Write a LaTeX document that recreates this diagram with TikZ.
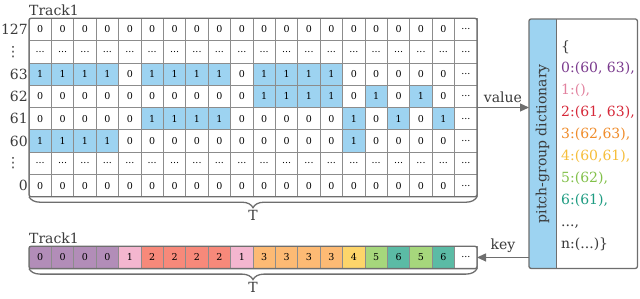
\documentclass[tikz,border=0pt]{standalone}
\usepackage{fontspec}
\setmainfont{DejaVu Serif}
\newfontfamily\dotsfont{DejaVu Sans}
\usetikzlibrary{decorations.pathreplacing,arrows.meta}

\definecolor{cellblue}   {HTML}{9DD3F1}
\definecolor{gridline}   {HTML}{8C8C8C}
\definecolor{framegray}  {HTML}{6E6E6E}
\definecolor{textgray}   {HTML}{3A3A3A}
\definecolor{grpzero}    {HTML}{B28DB8}
\definecolor{grpone}     {HTML}{F4B6CF}
\definecolor{grptwo}     {HTML}{F7897A}
\definecolor{grpthree}   {HTML}{FDBA74}
\definecolor{grpfour}    {HTML}{FDD56A}
\definecolor{grpfive}    {HTML}{A6D77C}
\definecolor{grpsix}     {HTML}{5BBBA5}
\definecolor{keyzero}    {HTML}{7B3B8E}
\definecolor{keyone}     {HTML}{E2829F}
\definecolor{keytwo}     {HTML}{D62839}
\definecolor{keythree}   {HTML}{F08C2A}
\definecolor{keyfour}    {HTML}{F6BE3A}
\definecolor{keyfive}    {HTML}{82C14A}
\definecolor{keysix}     {HTML}{1E9C82}

\newcommand{\celltxt}[1]{\if d#1...\else #1\fi}

\tikzset{
  cellbox/.style={draw=gridline, line width=0.7pt, anchor=north west,
    minimum width=22.4pt, minimum height=22.3pt, inner sep=0pt, outer sep=0pt,
    font=\fontsize{9.5}{9.5}\selectfont, text=black},
  v0/.style={fill=white}, v1/.style={fill=cellblue}, vd/.style={fill=white},
  k0/.style={fill=grpzero}, k1/.style={fill=grpone}, k2/.style={fill=grptwo},
  k3/.style={fill=grpthree}, k4/.style={fill=grpfour}, k5/.style={fill=grpfive},
  k6/.style={fill=grpsix}, kd/.style={fill=white},
  framebox/.style={draw=framegray, line width=1.3pt, rounded corners=2pt},
  bracket/.style={draw=framegray, line width=1.3pt,
    decorate, decoration={brace, mirror, amplitude=11pt}},
  bigtext/.style={font=\fontsize{14}{14}\selectfont, text=textgray},
  flowarrow/.style={draw=framegray, line width=1.2pt,
    -{Triangle[length=9pt, width=8pt]}},
  dictentry/.style={anchor=base west, inner sep=0pt,
    font=\fontsize{14}{14}\selectfont},
}

\begin{document}
\begin{tikzpicture}[x=1pt, y=-1pt]
\useasboundingbox (0,0) rectangle (640,298);

%% ── piano roll ─────────────────────────────────────────────
\foreach \rowvals [count=\r] in {
  {0,0,0,0,0,0,0,0,0,0,0,0,0,0,0,0,0,0,0,d},
  {d,d,d,d,d,d,d,d,d,d,d,d,d,d,d,d,d,d,d,d},
  {1,1,1,1,0,1,1,1,1,0,1,1,1,1,0,0,0,0,0,d},
  {0,0,0,0,0,0,0,0,0,0,1,1,1,1,0,1,0,1,0,d},
  {0,0,0,0,0,1,1,1,1,0,0,0,0,0,1,0,1,0,1,d},
  {1,1,1,1,0,0,0,0,0,0,0,0,0,0,1,0,0,0,0,d},
  {d,d,d,d,d,d,d,d,d,d,d,d,d,d,d,d,d,d,d,d},
  {0,0,0,0,0,0,0,0,0,0,0,0,0,0,0,0,0,0,0,d}}
{
  \foreach \v [count=\c] in \rowvals {
    \node[cellbox, v\v] (cell-\r-\c) at ({29+(\c-1)*22.4}, {18.3+(\r-1)*22.3}) {\celltxt\v};
  }
}
\draw[framebox] (cell-1-1.north west) rectangle (cell-8-20.south east);

\foreach \lab/\r in {127/1, 63/3, 62/4, 61/5, 60/6, 0/8}
  \node[bigtext, anchor=east, inner sep=1pt] (lbl-\r) at (cell-\r-1.west) {\lab};
\foreach \r in {2,7}
  \node[bigtext, inner sep=0pt, font=\dotsfont\fontsize{14}{14}\selectfont]
    (lbl-\r) at (cell-\r-1.west -| 13,0) {⋮};

\node[bigtext, anchor=south west, inner sep=0pt] (rolltitle)
  at ([yshift=2pt]cell-1-1.north west) {Track1};
\draw[bracket] (cell-8-1.south west) -- (cell-8-20.south east)
  node[bigtext, midway, below=10pt] (rollT) {T};

%% ── key track ──────────────────────────────────────────────
\foreach \v [count=\c] in {0,0,0,0,1,2,2,2,2,1,3,3,3,3,4,5,6,5,6,d} {
  \node[cellbox, k\v] (trk-\c) at ({29+(\c-1)*22.4}, 246.3) {\celltxt\v};
}
\draw[framebox] (trk-1.north west) rectangle (trk-20.south east);
\node[bigtext, anchor=south west, inner sep=0pt] (trktitle)
  at ([yshift=2pt]trk-1.north west) {Track1};
\draw[bracket] (trk-1.south west) -- (trk-20.south east)
  node[bigtext, midway, below=10pt] (trkT) {T};

%% ── pitch-group dictionary ─────────────────────────────────
\node[anchor=north west, minimum width=108pt, minimum height=249pt,
  inner sep=0pt, fill=white] (dict) at (529,19) {};
\node[anchor=north west, minimum width=27pt, minimum height=249pt,
  inner sep=0pt] (dictstrip) at (dict.north west) {};
\fill[cellblue] (dictstrip.north east) [rounded corners=2pt] -- (dictstrip.north west)
  -- (dictstrip.south west) [sharp corners] -- (dictstrip.south east) -- cycle;
\draw[draw=framegray, line width=1.2pt] (dictstrip.north east) -- (dictstrip.south east);
\draw[framebox] (dict.north west) rectangle (dict.south east);
\node[bigtext, rotate=90] (dictname) at (dictstrip.center) {pitch-group dictionary};

\foreach \col/\txt [count=\i] in {textgray/{\{}, keyzero/{0:(60, 63),},
    keyone/{1:(),}, keytwo/{2:(61, 63),}, keythree/{3:(62,63),},
    keyfour/{4:(60,61),}, keyfive/{5:(62),}, keysix/{6:(61),},
    textgray/{...,}, textgray/{n:(...)\}}}
  \node[dictentry, text=\col] (entry-\i) at (561, {51+21.9*(\i-1)}) {\txt};

%% ── arrows ─────────────────────────────────────────────────
\draw[flowarrow] (cell-4-20.south east) -- (cell-4-20.south east -| dict.west)
  node[bigtext, midway, above=1pt] (valuelbl) {value};
\draw[flowarrow] (trk-20.east -| dict.west) -- (trk-20.east)
  node[bigtext, midway, above=1pt] (keylbl) {key};
\end{tikzpicture}
\end{document}
